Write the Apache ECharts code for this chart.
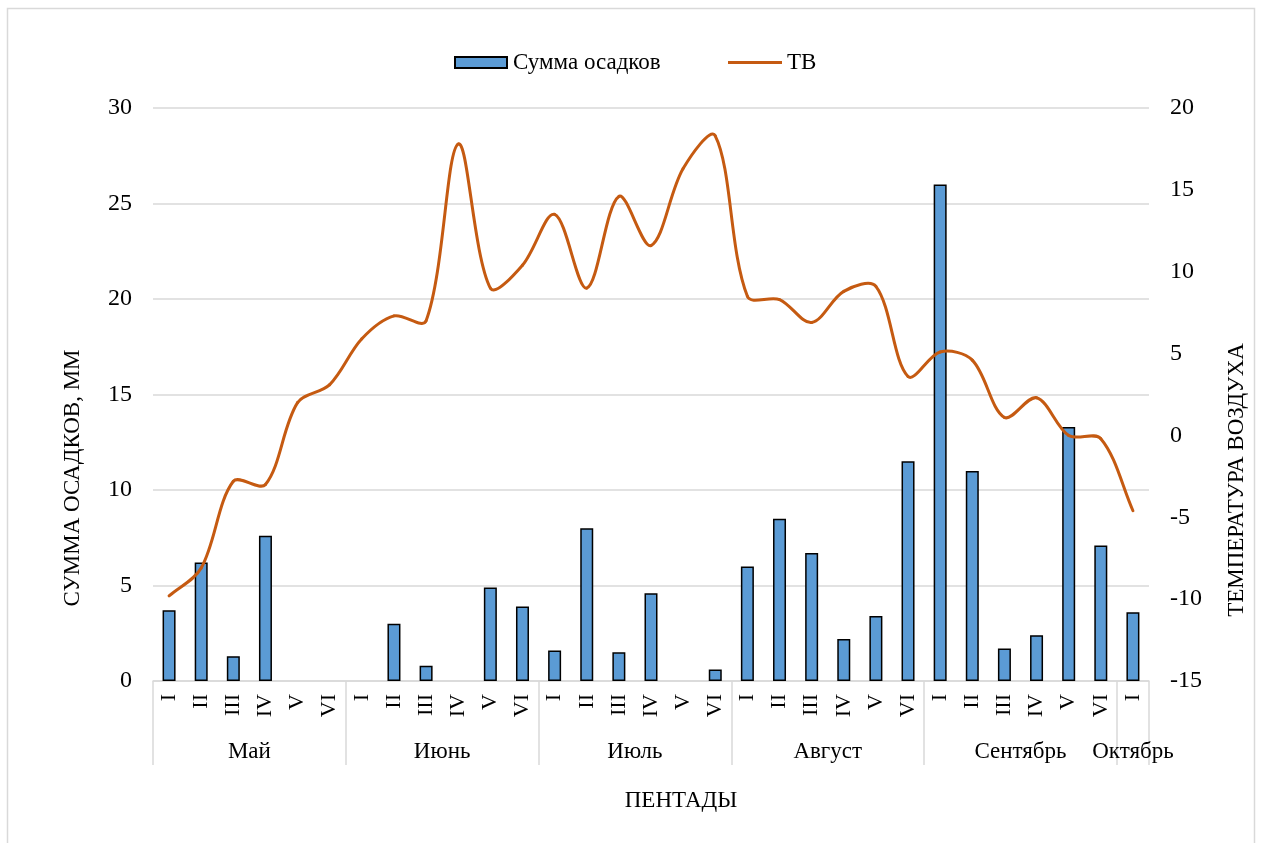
<!DOCTYPE html>
<html>
<head>
<meta charset="utf-8">
<script src="https://cdn.jsdelivr.net/npm/echarts@6/dist/echarts.min.js"></script>
<style>
  html, body { margin: 0; padding: 0; background: #fff; }
  #chart { width: 1261px; height: 843px; }
</style>
</head>
<body>
<div id="chart"></div>
<script>
// Pentades (five-day periods) grouped by month
const pentades = [
  'I','II','III','IV','V','VI',
  'I','II','III','IV','V','VI',
  'I','II','III','IV','V','VI',
  'I','II','III','IV','V','VI',
  'I','II','III','IV','V','VI',
  'I'
];
const months = ['Май', 'Июнь', 'Июль', 'Август', 'Сентябрь', 'Октябрь'];
const monthPentadeCounts = [6, 6, 6, 6, 6, 1];

// Precipitation sum per pentade, mm
const precipitation = [
  3.7, 6.2, 1.3, 7.6, 0, 0,
  0, 3.0, 0.8, 0, 4.9, 3.9,
  1.6, 8.0, 1.5, 4.6, 0, 0.6,
  6.0, 8.5, 6.7, 2.2, 3.4, 11.5,
  26.0, 11.0, 1.7, 2.4, 13.3, 7.1,
  3.6
];

// Mean air temperature per pentade, °C
const airTemp = [
  -9.8, -8.1, -2.8, -3.0, 2.0, 3.1,
  5.9, 7.3, 7.0, 17.8, 9.0, 10.4,
  13.5, 9.0, 14.6, 11.6, 16.3, 18.3,
  8.5, 8.3, 6.9, 8.8, 9.1, 3.6,
  5.1, 4.6, 1.1, 2.3, 0.0, -0.2,
  -4.6
];

const FONT = 'Liberation Serif';
const TEXT = '#000';
const GRID_COLOR = '#D9D9D9';
const LINE_COLOR = '#C55A11';
const BAR_COLOR = '#5B9BD5';

// Month row: a half-step category scale so labels sit mid-group and
// separators sit on group boundaries
const halfSteps = [];
const total = pentades.length;
for (let k = 0; k <= total * 2; k++) halfSteps.push(k);
const monthCenters = {};
const boundaries = new Set([0]);
let start = 0;
monthPentadeCounts.forEach((n, i) => {
  monthCenters[start * 2 + n] = months[i];
  start += n;
  boundaries.add(start * 2);
});

// Empty pentades get no outline
const barData = precipitation.map(v =>
  v === 0 ? { value: v, itemStyle: { borderWidth: 0 } } : v
);

// Smooth temperature curve: cubic Bezier segments through every point.
// Tangent follows (next - prev); each handle is scaled by the length of
// the segment it lies on, so short segments next to steep jumps stay tight.
function renderTempCurve(params, api) {
  if (params.dataIndex !== 0) return null;
  const pts = airTemp.map((v, i) => api.coord([i, v]));
  const n = pts.length;
  const dist = (a, b) => Math.hypot(b[0] - a[0], b[1] - a[1]);
  const cpIn = [], cpOut = [];
  for (let i = 0; i < n; i++) {
    const prev = pts[Math.max(i - 1, 0)];
    const next = pts[Math.min(i + 1, n - 1)];
    const p = pts[i];
    const vx = next[0] - prev[0], vy = next[1] - prev[1];
    const dPrev = dist(prev, p), dNext = dist(p, next);
    const sum = dPrev + dNext || 1;
    const kIn = dPrev / sum / 3, kOut = dNext / sum / 3;
    cpIn.push([p[0] - vx * kIn, p[1] - vy * kIn]);
    cpOut.push([p[0] + vx * kOut, p[1] + vy * kOut]);
  }
  const children = [];
  for (let i = 0; i < n - 1; i++) {
    children.push({
      type: 'bezierCurve',
      shape: {
        x1: pts[i][0], y1: pts[i][1],
        cpx1: cpOut[i][0], cpy1: cpOut[i][1],
        cpx2: cpIn[i + 1][0], cpy2: cpIn[i + 1][1],
        x2: pts[i + 1][0], y2: pts[i + 1][1]
      },
      style: { fill: null, stroke: LINE_COLOR, lineWidth: 3, lineCap: 'round' }
    });
  }
  return { type: 'group', children };
}

const chart = echarts.init(document.getElementById('chart'));

chart.setOption({
  animation: false,
  backgroundColor: '#fff',
  textStyle: { fontFamily: FONT, color: TEXT },
  grid: { left: 153, right: 112, top: 108, bottom: 162, containLabel: false },
  legend: [
    {
      data: [{ name: 'Сумма осадков', icon: 'rect' }],
      left: 449, top: 46,
      itemWidth: 52, itemHeight: 11,
      textStyle: { fontFamily: FONT, fontSize: 23, color: TEXT, padding: [0, 0, 0, 1] }
    },
    {
      data: [{ name: 'ТВ', icon: 'rect', itemStyle: { color: LINE_COLOR } }],
      left: 723, top: 46,
      itemWidth: 54, itemHeight: 3,
      textStyle: { fontFamily: FONT, fontSize: 23, color: TEXT }
    }
  ],
  xAxis: [
    {
      type: 'category',
      data: pentades,
      boundaryGap: true,
      axisLine: { show: true, onZero: false, lineStyle: { color: GRID_COLOR, width: 1.5 } },
      axisTick: { show: false },
      axisLabel: {
        rotate: 90, interval: 0, margin: 13,
        fontFamily: FONT, fontSize: 22, color: TEXT
      }
    },
    {
      type: 'category',
      data: halfSteps,
      boundaryGap: false,
      position: 'bottom',
      axisLine: { show: false, onZero: false },
      axisTick: {
        show: true, length: 84,
        interval: (idx) => boundaries.has(idx),
        lineStyle: { color: GRID_COLOR, width: 1.5 }
      },
      axisLabel: {
        margin: 59,
        interval: (idx) => monthCenters[idx] !== undefined,
        formatter: (val) => monthCenters[val] || '',
        fontFamily: FONT, fontSize: 23, color: TEXT
      },
      splitLine: { show: false }
    }
  ],
  yAxis: [
    {
      type: 'value', min: 0, max: 30, interval: 5,
      axisLine: { show: false }, axisTick: { show: false },
      axisLabel: { margin: 21, fontFamily: FONT, fontSize: 24, color: TEXT },
      splitLine: { lineStyle: { color: GRID_COLOR, width: 1.5 } }
    },
    {
      type: 'value', min: -15, max: 20, interval: 5,
      axisLine: { show: false }, axisTick: { show: false },
      axisLabel: { margin: 21, fontFamily: FONT, fontSize: 24, color: TEXT },
      splitLine: { show: false }
    }
  ],
  series: [
    {
      name: 'Сумма осадков',
      type: 'bar',
      xAxisIndex: 0, yAxisIndex: 0,
      data: barData,
      barWidth: 13,
      itemStyle: { color: BAR_COLOR, borderColor: '#000', borderWidth: 1.5 }
    },
    {
      name: 'ТВ',
      type: 'custom',
      xAxisIndex: 0, yAxisIndex: 1,
      data: airTemp.map((v, i) => [i, v]),
      encode: { x: 0, y: 1 },
      renderItem: renderTempCurve,
      itemStyle: { color: LINE_COLOR },
      z: 3
    }
  ],
  graphic: [
    {
      type: 'rect', silent: true, z: -1,
      shape: { x: 7.5, y: 8.5, width: 1247, height: 850 },
      style: { fill: 'none', stroke: GRID_COLOR, lineWidth: 1.5 }
    },
    {
      type: 'text', x: 73, y: 478, rotation: Math.PI / 2,
      style: {
        text: 'СУММА ОСАДКОВ, ММ', fontFamily: FONT, fontSize: 23, fill: TEXT,
        textAlign: 'center', textVerticalAlign: 'middle'
      }
    },
    {
      type: 'text', x: 1237, y: 480, rotation: Math.PI / 2,
      style: {
        text: 'ТЕМПЕРАТУРА ВОЗДУХА', fontFamily: FONT, fontSize: 23, fill: TEXT,
        textAlign: 'center', textVerticalAlign: 'middle'
      }
    },
    {
      type: 'text', x: 681, y: 801,
      style: {
        text: 'ПЕНТАДЫ', fontFamily: FONT, fontSize: 23, fill: TEXT,
        textAlign: 'center', textVerticalAlign: 'middle'
      }
    }
  ]
});
</script>
</body>
</html>
